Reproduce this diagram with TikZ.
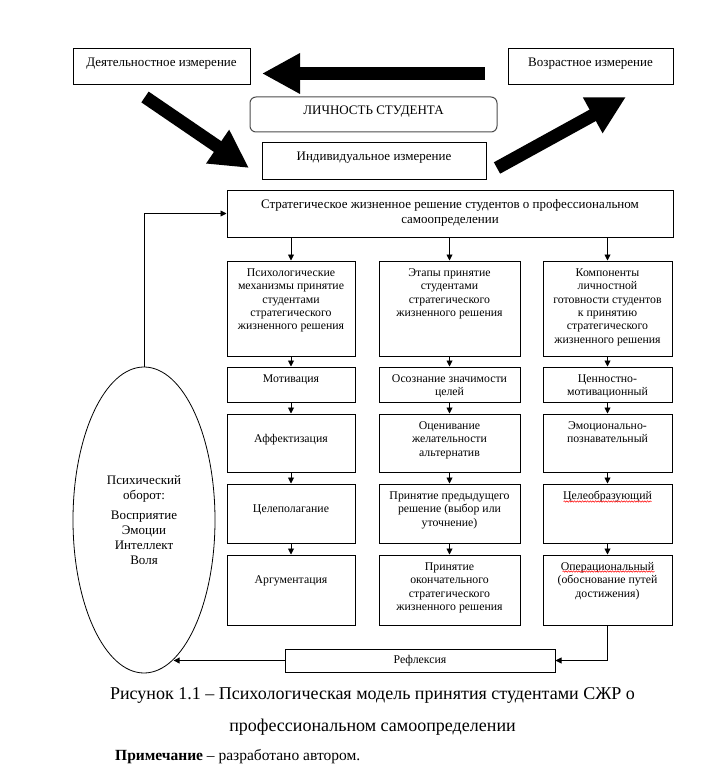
\documentclass[tikz,border=0pt]{standalone}
\usepackage{fontspec}
\setmainfont{Liberation Serif}
\usepackage{tikz}
\usetikzlibrary{arrows.meta,calc,shapes,decorations.pathmorphing}

% text of a box: [top pad]{width}{height}{lines}
\newcommand{\celltxt}[4][6pt]{\parbox[c][#3][t]{#2}{\centering\vspace*{#1}\strut #4}}

\tikzset{
  blk/.style={draw, rectangle, line width=1pt, inner sep=0pt,
    font=\fontsize{11.8}{13.4}\selectfont},
  bigblk/.style={blk, font=\fontsize{13}{15}\selectfont},
  link/.style={line width=0.9pt, -{Triangle[length=6pt,width=6pt]}},
  fat/.style={line width=13pt, -{Triangle[length=38pt,width=38pt]}},
  wavy/.style={red, line width=0.5pt, decorate,
    decoration={snake, amplitude=0.7pt, segment length=2.6pt}}
}

\begin{document}
\begin{tikzpicture}[x=1pt, y=-1pt]
\useasboundingbox (0,0) rectangle (714,778);
% Top boxes
\node[bigblk] (act) at (161.5,67) {\celltxt[7.5pt]{177pt}{36pt}{Деятельностное измерение}};
\node[bigblk] (age) at (590.5,67) {\celltxt[7.5pt]{165pt}{36pt}{Возрастное измерение}};
\node[bigblk, rounded corners=6pt, draw=black!70] (pers) at (373.5,114.5)
	{\celltxt[7.5pt]{247pt}{35pt}{ЛИЧНОСТЬ СТУДЕНТА}};
\node[bigblk] (ind) at (374,161) {\celltxt[7.5pt]{224pt}{36pt}{Индивидуальное измерение}};
% Fat arrows
\coordinate (l1) at (485,73.5);
\coordinate (l2) at (262,73.5);
\coordinate (d1) at (145,97);
\coordinate (d2) at (249,168);
\coordinate (u1) at (497,168);
\coordinate (u2) at (626,97);
\draw[fat] (l1) -- (l2);
\draw[fat] (d1) -- (d2);
\draw[fat] (u1) -- (u2);
% Strategic decision
\node[bigblk] (strat) at (450,213.5) {\celltxt[7.5pt]{446pt}{47pt}{Стратегическое жизненное решение студентов о профессиональном\\ самоопределении}};
% Column heads
\node[blk] (mech) at (291,308.5) {\celltxt{128pt}{95pt}{Психологические\\ механизмы принятие\\ студентами\\ стратегического\\ жизненного решения}};
\node[blk] (stage) at (449.5,308.5) {\celltxt{141pt}{95pt}{Этапы принятие\\ студентами\\ стратегического\\ жизненного решения}};
\node[blk] (comp) at (607.5,308.5) {\celltxt{129pt}{95pt}{Компоненты\\ личностной\\ готовности студентов\\ к принятию\\ стратегического\\ жизненного решения}};
% Left column
\node[blk] (m1) at (291,384.5) {\celltxt{128pt}{35pt}{Мотивация}};
\node[blk] (m2) at (291,443) {\celltxt[19.5pt]{128pt}{58pt}{Аффектизация}};
\node[blk] (m3) at (291,513.5) {\celltxt[19.5pt]{128pt}{59pt}{Целеполагание}};
\node[blk] (m4) at (291,590) {\celltxt[19.5pt]{128pt}{70pt}{Аргументация}};
% Middle column
\node[blk] (s1) at (449.5,384.5) {\celltxt{141pt}{35pt}{Осознание значимости\\ целей}};
\node[blk] (s2) at (449.5,443) {\celltxt{141pt}{58pt}{Оценивание\\ желательности\\ альтернатив}};
\node[blk] (s3) at (449.5,513.5) {\celltxt{141pt}{59pt}{Принятие предыдущего\\ решение (выбор или\\ уточнение)}};
\node[blk] (s4) at (449.5,590) {\celltxt{141pt}{70pt}{Принятие\\ окончательного\\ стратегического\\ жизненного решения}};
% Right column
\node[blk] (c1) at (607.5,384.5) {\celltxt{129pt}{35pt}{Ценностно-\\ мотивационный}};
\node[blk] (c2) at (607.5,443) {\celltxt{129pt}{58pt}{Эмоционально-\\ познавательный}};
\node[blk] (c3) at (607.5,513.5) {\celltxt{129pt}{59pt}{Целеобразующий}};
\node[blk] (c4) at (607.5,590) {\celltxt{129pt}{70pt}{Операциональный\\ (обоснование путей\\ достижения)}};
\draw[wavy] ($(c3.north)+(-44,18)$) -- ++(88,0);
\draw[wavy] ($(c4.north)+(-45,17)$) -- ++(92,0);
% Reflexion and mental cycle
\node[blk] (refl) at (420,660.5) {\celltxt[5.5pt]{270pt}{23pt}{Рефлексия}};
\node[ellipse, draw, line width=0.8pt, inner sep=0pt, minimum width=142pt, minimum height=306pt,
	align=center, font=\fontsize{13}{15}\selectfont] (psy) at (144,520)
	{Психический\\ оборот:\\[5pt] Восприятие\\ Эмоции\\ Интеллект\\ Воля};
% Arrows
\draw[link] (strat.south -| mech.north) -- (mech.north);
\draw[link] (strat.south -| stage.north) -- (stage.north);
\draw[link] (strat.south -| comp.north) -- (comp.north);
\draw[link] (mech.south) -- (m1.north);
\draw[link] (m1.south) -- (m2.north);
\draw[link] (m2.south) -- (m3.north);
\draw[link] (m3.south) -- (m4.north);
\draw[link] (stage.south) -- (s1.north);
\draw[link] (s1.south) -- (s2.north);
\draw[link] (s2.south) -- (s3.north);
\draw[link] (s3.south) -- (s4.north);
\draw[link] (comp.south) -- (c1.north);
\draw[link] (c1.south) -- (c2.north);
\draw[link] (c2.south) -- (c3.north);
\draw[link] (c3.south) -- (c4.north);
\draw[link] (psy.north) |- (strat.west);
\draw[link] (c4.south) |- (refl.east);
\draw[link] (refl.west) -- (refl.west -| psy.-78.5);
% Caption
\node[font=\fontsize{18}{32}\selectfont, align=center] (cap) at (372.5,711)
	{Рисунок 1.1 – Психологическая модель принятия студентами СЖР о\\ профессиональном самоопределении};
\node[font=\fontsize{15.5}{17}\selectfont, anchor=west, inner sep=0pt] (note) at (115,757)
	{\textbf{Примечание} – разработано автором.};
\end{tikzpicture}
\end{document}
